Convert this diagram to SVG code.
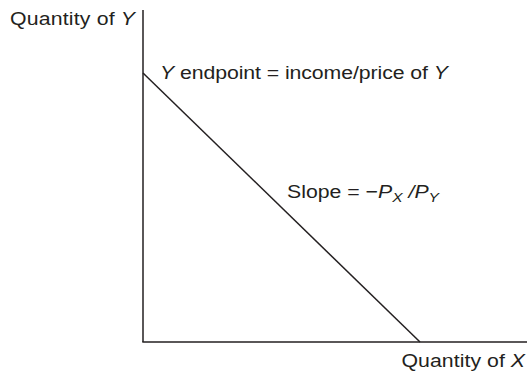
<svg xmlns="http://www.w3.org/2000/svg" width="527" height="374" viewBox="0 0 527 374">
<style>
.t{font-family:"Liberation Sans",Arial,sans-serif;font-size:18.5px;fill:#231f20}
.i{font-style:italic}
.ln{stroke:#231f20;stroke-width:1.5;fill:none}
</style>
<rect width="527" height="374" fill="#fff"/>
<g id="axes">
<line class="ln" x1="143" y1="10" x2="143" y2="342"/>
<line class="ln" x1="142.3" y1="342" x2="527" y2="342"/>
</g>
<g id="connectors">
<line class="ln" x1="143" y1="73" x2="420" y2="342"/>
</g>
<g id="labels">
<text class="t" transform="translate(10,24.5) scale(1.15,1)" textLength="108.7" lengthAdjust="spacing">Quantity of <tspan class="i">Y</tspan></text>
<text class="t" transform="translate(160,78.5) scale(1.15,1)" textLength="250.4" lengthAdjust="spacing"><tspan class="i">Y</tspan> endpoint = income/price of <tspan class="i">Y</tspan></text>
<text class="t" transform="translate(287,198) scale(1.15,1)">Slope = −<tspan class="i">P</tspan><tspan class="i" font-size="13.5" dy="4">X</tspan><tspan class="i" dy="-4"> /P</tspan><tspan class="i" font-size="13.5" dy="4">Y</tspan></text>
<text class="t" transform="translate(401.5,366.5) scale(1.15,1)" textLength="107.4" lengthAdjust="spacing">Quantity of <tspan class="i">X</tspan></text>
</g>
</svg>
